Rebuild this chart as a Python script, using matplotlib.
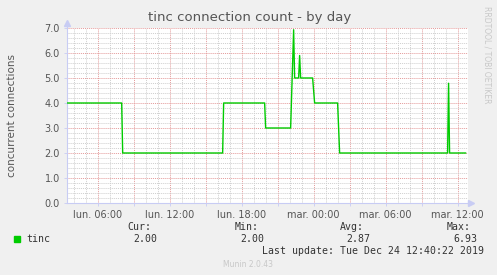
import pandas as pd
import matplotlib
matplotlib.use("Agg")
import matplotlib.pyplot as plt
import matplotlib.dates as mdates
from matplotlib.ticker import MultipleLocator, FuncFormatter
from matplotlib.patches import Rectangle

# Values (5 minute samples, only the corners kept)
times = ["2019-12-23 03:25", "2019-12-23 08:00", "2019-12-23 08:05",
         "2019-12-23 16:25", "2019-12-23 16:30", "2019-12-23 19:55",
         "2019-12-23 20:00", "2019-12-23 22:05", "2019-12-23 22:20",
         "2019-12-23 22:25", "2019-12-23 22:45", "2019-12-23 22:50",
         "2019-12-23 22:55", "2019-12-23 23:55", "2019-12-24 00:05",
         "2019-12-24 02:00", "2019-12-24 02:10", "2019-12-24 11:10",
         "2019-12-24 11:15", "2019-12-24 11:20", "2019-12-24 12:40"]
connections = [4.0, 4.0, 2.0,
               2.0, 4.0, 4.0,
               3.0, 3.0, 6.93,
               5.0, 5.0, 5.9,
               5.0, 5.0, 4.0,
               4.0, 2.0, 2.0,
               4.79, 2.0, 2.0]

stat_labels = ["Cur:", "Min:", "Avg:", "Max:"]
stat_values = ["2.00", "2.00", "2.87", "6.93"]
day_names = ["lun.", "mar.", "mer.", "jeu.", "ven.", "sam.", "dim."]

GREEN = "#00CC00"
AXIS = "#C8CCF4"
TEXT = "#555555"


def tick_label(x, pos):
    """French munin style label, only every six hours."""
    hours = int(round(x * 24))
    if hours % 6 != 0:
        return ""
    d = mdates.num2date(hours / 24)
    return f"{day_names[d.weekday()]} {d:%H:%M}"


def main():
    fig = plt.figure(figsize=(4.97, 2.75), dpi=100, facecolor="#F0F0F0")
    ax = fig.add_axes([0.1342, 0.2618, 0.8074, 0.6364])
    ax.set_facecolor("white")

    x = mdates.date2num(pd.to_datetime(times).to_pydatetime())
    ax.plot(x, connections, color=GREEN, lw=1.0, zorder=3)

    ax.set_xlim(mdates.date2num(pd.Timestamp("2019-12-23 03:25")),
                mdates.date2num(pd.Timestamp("2019-12-24 12:52")))
    ax.set_ylim(0, 7.0)

    # grid: red every 3h / 1.0, gray every 1h / 0.2
    ax.xaxis.set_major_locator(mdates.HourLocator(byhour=range(0, 24, 3)))
    ax.xaxis.set_minor_locator(mdates.HourLocator())
    ax.xaxis.set_major_formatter(FuncFormatter(tick_label))
    ax.yaxis.set_major_locator(MultipleLocator(1.0))
    ax.yaxis.set_minor_locator(MultipleLocator(0.2))
    ax.yaxis.set_major_formatter(FuncFormatter(lambda v, p: f"{v:.1f}"))
    ax.grid(which="minor", color="#CFCFCF", lw=0.7, ls=(0, (1, 1)))
    ax.grid(which="major", color="#E49A9A", lw=0.7, ls=(0, (1, 1)))

    ax.tick_params(which="both", length=2, width=0.6, color=AXIS, labelcolor=TEXT,
                   labelsize=7, pad=3)
    ax.tick_params(which="minor", length=0)

    for side in ["top", "right"]:
        ax.spines[side].set_visible(False)
    for side in ["left", "bottom"]:
        ax.spines[side].set_color(AXIS)
        ax.spines[side].set_linewidth(0.8)

    # axis arrows
    ax.plot([0], [1.03], marker="^", ms=4, color=AXIS, transform=ax.transAxes, clip_on=False)
    ax.plot([0, 0], [1.0, 1.03], color=AXIS, lw=0.8, transform=ax.transAxes, clip_on=False)
    ax.plot([1.0, 1.007], [0, 0], color=AXIS, lw=0.8, transform=ax.transAxes, clip_on=False)
    ax.plot([1.007], [0], marker=">", ms=4, color=AXIS, transform=ax.transAxes, clip_on=False)

    fig.text(0.503, 0.935, "tinc connection count - by day", ha="center", va="center",
             fontsize=9.5, color=TEXT)
    fig.text(0.024, 0.58, "concurrent connections", ha="center", va="center",
             rotation=90, fontsize=7.5, color=TEXT)
    fig.text(0.98, 0.80, "RRDTOOL / TOBI OETIKER", ha="center", va="center",
             rotation=270, fontsize=5.5, color="#C8C8C8")

    # legend block
    mono = "DejaVu Sans Mono"
    fig.add_artist(Rectangle((14 / 497, 1 - 242 / 275), 6 / 497, 6 / 275,
                             transform=fig.transFigure, color=GREEN))
    fig.text(26 / 497, 1 - 239.5 / 275, "tinc", family=mono, fontsize=7.1,
             color="#333333", va="center")
    label_x = [127, 235, 340, 447]
    value_x = [133, 240, 346, 453]
    for lab, val, lx, vx in zip(stat_labels, stat_values, label_x, value_x):
        fig.text(lx / 497, 1 - 227.5 / 275, lab, family=mono, fontsize=7.1,
                 color="#333333", va="center")
        fig.text(vx / 497, 1 - 239.5 / 275, val, family=mono, fontsize=7.1,
                 color="#333333", va="center")
    fig.text(262 / 497, 1 - 251.5 / 275, "Last update: Tue Dec 24 12:40:22 2019",
             family=mono, fontsize=7.1, color="#333333", va="center")
    fig.text(248 / 497, 1 - 264.5 / 275, "Munin 2.0.43", fontsize=5.5,
             color="#C8C8C8", ha="center", va="center")

    fig.savefig("out.png", dpi=100, facecolor=fig.get_facecolor())


if __name__ == "__main__":
    main()
